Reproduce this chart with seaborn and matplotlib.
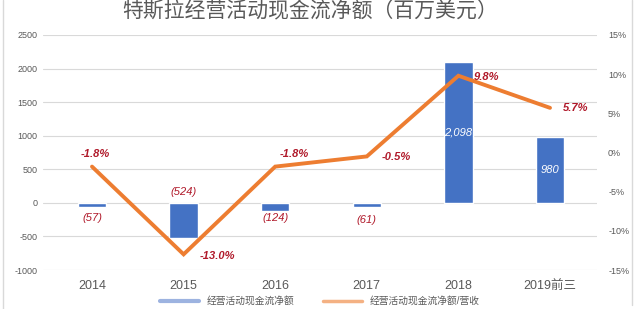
import matplotlib
matplotlib.use("Agg")
import matplotlib.pyplot as plt
import seaborn as sns
import pandas as pd
import numpy as np
from matplotlib.lines import Line2D

# ---- data ----
categories = ["2014", "2015", "2016", "2017", "2018", "2019前三"]
cash_flow = [-57, -524, -124, -61, 2098, 980]           # 百万美元
cash_ratio = [-1.8, -13.0, -1.8, -0.5, 9.8, 5.7]          # %
left_ticks = [-1000, -500, 0, 500, 1000, 1500, 2000, 2500]
right_ticks = [-15, -10, -5, 0, 5, 10, 15]
title = "特斯拉经营活动现金流净额（百万美元）"
legend_labels = ["经营活动现金流净额", "经营活动现金流净额/营收"]

# ---- style ----
sns.set_theme(style="white")
plt.rcParams["font.family"] = ["Liberation Sans", "Noto Sans CJK SC"]
BLUE = "#4472C4"
ORANGE = "#ED7D31"
LABEL_RED = "#B0192A"
GRID = "#D9D9D9"
TXT = "#595959"

fig = plt.figure(figsize=(6.4, 3.09), dpi=100)
ax = fig.add_axes([43 / 640, 1 - 270 / 309, 554 / 640, 235 / 309])

df = pd.DataFrame({"cat": categories, "val": cash_flow})
sns.barplot(data=df, x="cat", y="val", ax=ax, color=BLUE, width=0.31,
            saturation=1, order=categories)
ax.set_ylim(-1000, 2500)
ax.set_yticks(left_ticks)
ax.set_yticklabels([str(t) for t in left_ticks], fontsize=6.5, color=TXT)
ax.set_xlabel("")
ax.set_ylabel("")
ax.tick_params(axis="x", labelsize=9, colors=TXT, length=0, pad=7)
ax.tick_params(axis="y", length=0, pad=4)
ax.yaxis.grid(True, color=GRID, linewidth=0.8)
ax.set_axisbelow(True)
for s in ax.spines.values():
    s.set_visible(False)

ax2 = ax.twinx()
xpos = np.arange(len(categories))
sns.lineplot(x=xpos, y=cash_ratio, ax=ax2, color=ORANGE, linewidth=2.8,
             solid_joinstyle="miter")
ax2.set_ylim(-15, 15)
ax2.set_yticks(right_ticks)
ax2.set_yticklabels([f"{t}%" for t in right_ticks], fontsize=6.5, color=TXT)
ax2.tick_params(axis="y", length=0, pad=8)
ax2.set_ylabel("")
for s in ax2.spines.values():
    s.set_visible(False)
ax.set_xlim(-0.535, 5.513)
ax2.set_xlim(-0.535, 5.513)

# line data labels
line_offsets = [(3, 13), (34, -2), (19, 13), (30, -1), (28, -1), (26, 0)]
for i, (v, off) in enumerate(zip(cash_ratio, line_offsets)):
    ax2.annotate(f"{v:.1f}%", (xpos[i], v), xytext=off, textcoords="offset pixels",
                 ha="center", va="center", fontsize=8, fontweight="bold",
                 fontstyle="italic", color=LABEL_RED)

# bar data labels
bar_offsets = [-15, 11, -15, -17, None, None]
for i, (v, off) in enumerate(zip(cash_flow, bar_offsets)):
    if v < 0:
        txt = f"({abs(v):,})"
        ax.annotate(txt, (i, 0), xytext=(0, off), textcoords="offset pixels",
                    ha="center", va="center", fontsize=8, fontstyle="italic",
                    color=LABEL_RED)
    else:
        ax.annotate(f"{v:,}", (i, v / 2), ha="center", va="center", fontsize=8,
                    fontstyle="italic", color="white")

# title
fig.text(310 / 640, 1 - 1 / 309, title, ha="center", va="top",
         fontsize=15, color=TXT)

# legend
handles = [Line2D([0], [0], color="#9DB3E0", linewidth=3),
           Line2D([0], [0], color=ORANGE, linewidth=2.5, alpha=0.6)]
fig.legend(handles, legend_labels, loc="center", bbox_to_anchor=(320 / 640, 1 - 301 / 309),
           ncol=2, frameon=False, fontsize=7, labelcolor=TXT, handlelength=4,
           columnspacing=3)

# chart frame
fig.add_artist(Line2D([3 / 640, 3 / 640], [0, 1], color=GRID, linewidth=1))
fig.add_artist(Line2D([632 / 640, 632 / 640], [1 - 305 / 309, 1], color=GRID, linewidth=1))

fig.savefig("out.png", dpi=100)
